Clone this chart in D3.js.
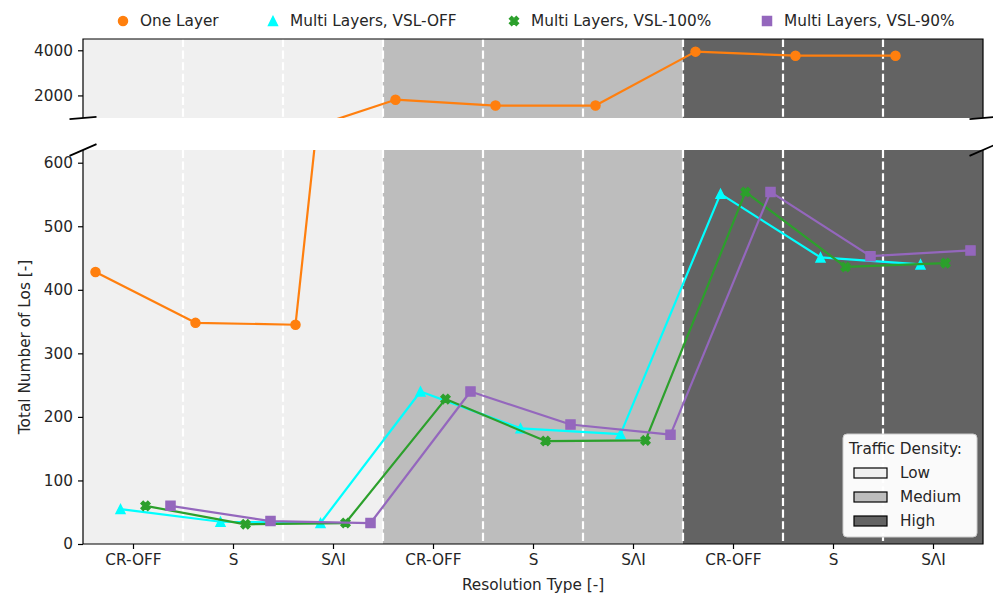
<!DOCTYPE html>
<html>
<head>
<meta charset="utf-8">
<script src="https://cdn.jsdelivr.net/npm/d3@7"></script>
<style>
html,body{margin:0;padding:0;background:#fff;}
svg text{font-family:"DejaVu Sans",sans-serif;fill:#262626;}
</style>
</head>
<body>
<svg id="chart" width="993" height="594"></svg>
<script>
// ---- data ----
const resolutionTypes = ["CR-OFF", "S", "S\u039BI"];
const densities = ["Low", "Medium", "High"];
const densityColors = ["#f0f0f0", "#bdbdbd", "#636363"];
const categories = [].concat(...densities.map(d => resolutionTypes.map(r => d + "|" + r)));
const oneLayer  = [428, 348, 345, 1810, 1550, 1550, 3940, 3760, 3760];
const vslOff    = [55, 35, 33, 240, 182, 173, 551, 451, 440];
const vsl100    = [60, 31, 33, 228, 162, 163, 554, 436, 442];
const vsl90     = [60, 36, 33, 240, 188, 172, 554, 453, 462];
const seriesNames = ["One Layer", "Multi Layers, VSL-OFF", "Multi Layers, VSL-100%", "Multi Layers, VSL-90%"];
const seriesValues = [oneLayer, vslOff, vsl100, vsl90];
const seriesColors = ["#ff7f0e", "#00ffff", "#2ca02c", "#9467bd"];
const seriesMarkers = ["circle", "triangle", "xfilled", "square"];
const seriesOffsets = [-0.375, -0.125, 0.125, 0.375];
const lowerTicks = [0, 100, 200, 300, 400, 500, 600];
const upperTicks = [2000, 4000];

// ---- layout ----
const L = 83, R = 983;
const top1 = 39, bot1 = 118;   // upper axes
const top2 = 150, bot2 = 544;  // lower axes
const FS = 15.3;
const ms = 9.2;  // marker size px
const lw = 2.2;

const svg = d3.select("#chart");
const x = d3.scaleLinear().domain([-0.5, categories.length - 0.5]).range([L, R]);
const yTop = d3.scaleLinear().domain([1000, 4500]).range([bot1, top1]);
const yBot = d3.scaleLinear().domain([0, 620]).range([bot2, top2]);

function markerPath(type, s) {
  const h = s / 2;
  if (type === "circle") {
    const p = d3.path(); p.arc(0, 0, h, 0, 2 * Math.PI); p.closePath(); return p.toString();
  }
  if (type === "triangle") return `M0,${-h}L${-h},${h}L${h},${h}Z`;
  if (type === "square") return `M${-h},${-h}H${h}V${h}H${-h}Z`;
  if (type === "xfilled") {
    const pts = [[-1,-2],[0,-1],[1,-2],[2,-1],[1,0],[2,1],[1,2],[0,1],[-1,2],[-2,1],[-1,0],[-2,-1]];
    return "M" + pts.map(p => [p[0] * s / 4, p[1] * s / 4].join(",")).join("L") + "Z";
  }
}

const defs = svg.append("defs");
defs.append("clipPath").attr("id", "clipTop").append("rect")
  .attr("x", L).attr("y", top1).attr("width", R - L).attr("height", bot1 - top1);
defs.append("clipPath").attr("id", "clipBot").append("rect")
  .attr("x", L).attr("y", top2).attr("width", R - L).attr("height", bot2 - top2);

function drawPanel(yScale, y0, y1, clipId) {
  const g = svg.append("g");
  densities.forEach((d, i) => {
    g.append("rect")
      .attr("x", x(i * 3 - 0.5)).attr("y", y0)
      .attr("width", x(i * 3 + 2.5) - x(i * 3 - 0.5)).attr("height", y1 - y0)
      .attr("fill", densityColors[i]);
  });
  d3.range(categories.length - 1).forEach(i => {
    g.append("line")
      .attr("x1", x(i + 0.5)).attr("x2", x(i + 0.5))
      .attr("y1", y0).attr("y2", y1)
      .attr("stroke", "#ffffff").attr("stroke-width", 2.2)
      .attr("stroke-dasharray", "8.1,3.5");
  });
  const pg = g.append("g").attr("clip-path", `url(#${clipId})`);
  seriesValues.forEach((vals, si) => {
    const line = d3.line().x((v, i) => x(i + seriesOffsets[si])).y(v => yScale(v));
    pg.append("path").attr("d", line(vals)).attr("fill", "none")
      .attr("stroke", seriesColors[si]).attr("stroke-width", lw).attr("stroke-linejoin", "round");
    vals.forEach((v, i) => {
      pg.append("path").attr("d", markerPath(seriesMarkers[si], ms))
        .attr("transform", `translate(${x(i + seriesOffsets[si])},${yScale(v)})`)
        .attr("fill", seriesColors[si]).attr("stroke", seriesColors[si]).attr("stroke-width", 1.3);
    });
  });
  return g;
}

drawPanel(yTop, top1, bot1, "clipTop");
drawPanel(yBot, top2, bot2, "clipBot");

// axes
const yAxisTop = d3.axisLeft(yTop).tickValues(upperTicks).tickFormat(d3.format("d")).tickSize(5).tickPadding(5);
const yAxisBot = d3.axisLeft(yBot).tickValues(lowerTicks).tickFormat(d3.format("d")).tickSize(5).tickPadding(5);
const xAxis = d3.axisBottom(x).tickValues(d3.range(categories.length))
  .tickFormat(i => categories[i].split("|")[1]).tickSize(5).tickPadding(5);

function styleAxis(g) {
  g.select(".domain").remove();
  g.selectAll(".tick line").attr("stroke", "#000").attr("stroke-width", 1.2);
  g.selectAll(".tick text").attr("font-size", FS).attr("fill", "#262626")
    .style("font-family", '"DejaVu Sans", sans-serif');
}
svg.append("g").attr("transform", `translate(${L},0)`).call(yAxisTop).call(styleAxis);
svg.append("g").attr("transform", `translate(${L},0)`).call(yAxisBot).call(styleAxis);
svg.append("g").attr("transform", `translate(0,${bot2})`).call(xAxis).call(styleAxis);

// spines
const sp = svg.append("g").attr("stroke", "#000").attr("stroke-width", 1.2).attr("fill", "none");
sp.append("path").attr("d", `M${L},${bot1}V${top1}H${R}V${bot1}`);
sp.append("path").attr("d", `M${L},${top2}V${bot2}H${R}V${top2}`);

// break marks
const dx = 0.015 * (R - L);
const dyT = 0.015 * (bot1 - top1), dyB = 0.015 * (bot2 - top2);
const bk = svg.append("g").attr("stroke", "#000").attr("stroke-width", 1.8);
[L, R].forEach(xx => {
  bk.append("line").attr("x1", xx - dx).attr("y1", bot1 + dyT).attr("x2", xx + dx).attr("y2", bot1 - dyT);
  bk.append("line").attr("x1", xx - dx).attr("y1", top2 + dyB).attr("x2", xx + dx).attr("y2", top2 - dyB);
});

// axis labels
svg.append("text").attr("x", (L + R) / 2).attr("y", 585).attr("text-anchor", "middle")
  .attr("dominant-baseline", "middle").attr("font-size", FS).text("Resolution Type [-]");
svg.append("text").attr("transform", `translate(25,${(top2 + bot2) / 2}) rotate(-90)`)
  .attr("text-anchor", "middle").attr("dominant-baseline", "middle")
  .attr("font-size", FS).text("Total Number of Los [-]");

// top legend
const legX = [123, 273, 514, 767];
const legY = 21;
seriesNames.forEach((n, i) => {
  svg.append("path").attr("d", markerPath(seriesMarkers[i], ms))
    .attr("transform", `translate(${legX[i]},${legY})`)
    .attr("fill", seriesColors[i]).attr("stroke", seriesColors[i]).attr("stroke-width", 1.3);
  svg.append("text").attr("x", legX[i] + 17).attr("y", legY).attr("dominant-baseline", "middle")
    .attr("font-size", FS).text(n);
});

// density legend
const lg = svg.append("g");
lg.append("rect").attr("x", 843).attr("y", 434).attr("width", 134).attr("height", 103)
  .attr("rx", 4).attr("fill", "#ffffff").attr("fill-opacity", 0.97)
  .attr("stroke", "#cccccc").attr("stroke-width", 1);
lg.append("text").attr("x", 849).attr("y", 449).attr("dominant-baseline", "middle")
  .attr("font-size", FS).text("Traffic Density:");
densities.forEach((d, i) => {
  const cy = 473 + i * 24;
  lg.append("rect").attr("x", 854).attr("y", cy - 5).attr("width", 33).attr("height", 10)
    .attr("fill", densityColors[i]).attr("stroke", "#000").attr("stroke-width", 1.2);
  lg.append("text").attr("x", 900).attr("y", cy).attr("dominant-baseline", "middle")
    .attr("font-size", FS).text(d);
});
</script>
</body>
</html>
